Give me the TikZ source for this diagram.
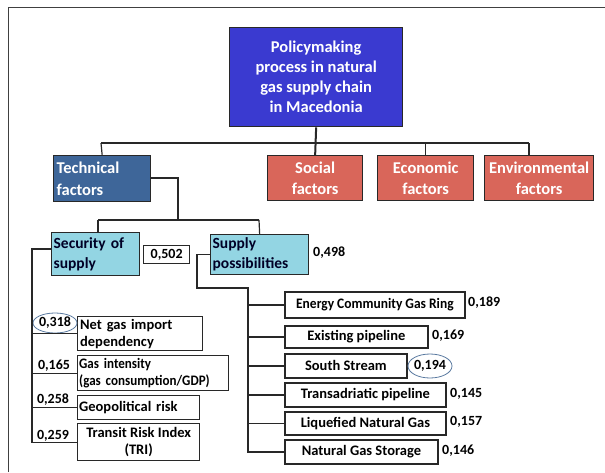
\documentclass[tikz,border=0pt]{standalone}
\usepackage{fontspec}
\setmainfont{Carlito}
\newfontfamily\condA[FakeStretch=0.93]{Carlito}
\newfontfamily\condB[FakeStretch=0.9]{Carlito}
\usetikzlibrary{shapes.geometric}
\definecolor{mainblue}{RGB}{58,58,208}
\definecolor{techblue}{RGB}{62,102,153}
\definecolor{salmon}{RGB}{217,102,90}
\definecolor{lightblue}{RGB}{147,213,227}
\definecolor{linegray}{RGB}{40,40,40}
\definecolor{ringblue}{RGB}{90,122,160}
\tikzset{
  base/.style={draw=linegray, line width=1.3pt, inner sep=0pt, anchor=north west, font=\bfseries},
  mainbox/.style={base, fill=mainblue, text=white, align=center, font=\fontsize{16.5}{20}\selectfont\bfseries},
  techbox/.style={base, fill=techblue, text=white, align=left, font=\fontsize{16.5}{22}\selectfont\bfseries},
  redbox/.style={base, fill=salmon, text=white, align=center, font=\fontsize{16.5}{20.5}\selectfont\bfseries},
  lbbox/.style={base, fill=lightblue, text=black!85!blue, align=left, font=\fontsize{15.5}{20}\selectfont\bfseries},
  wbox/.style={base, fill=white, text=black, font=\fontsize{14.5}{17}\selectfont\bfseries},
  rbox/.style={base, line width=1.8pt, fill=white, text=black, align=center, font=\fontsize{14.5}{17}\selectfont\bfseries},
  val/.style={inner sep=0pt, text=black, font=\fontsize{14}{15}\selectfont\bfseries},
  conn/.style={draw=linegray, line width=1.2pt},
  ring/.style={draw=ringblue, line width=0.8pt, ellipse, inner sep=0pt},
}
\begin{document}
\begin{tikzpicture}[x=1pt,y=-1pt]
\useasboundingbox (0,0) rectangle (605,472);
% frame
\draw[draw=black!75, line width=1pt] (8,472) -- (8,7) -- (605,7);

% level 0 and 1
\node[mainbox, minimum width=173pt, minimum height=99pt] (main) at (229,27)
  {Policymaking\\process in natural\\gas supply chain\\in Macedonia};
\node[techbox, minimum width=97pt, minimum height=46pt, text width=91pt] (tech) at (53,155)
  {Technical\\factors};
\node[redbox, minimum width=95pt, minimum height=45pt] (social) at (267,155) {Social\\factors};
\node[redbox, minimum width=96pt, minimum height=45pt] (econ) at (377,155) {Economic\\factors};
\node[redbox, minimum width=109pt, minimum height=45pt] (env) at (484,155) {Environmental\\factors};

\coordinate (busL) at (101,143);
\coordinate (busR) at (529,143);
\draw[conn] (busL) -- (busR);
\draw[conn, line width=2pt] (main.south) -- (social.north);
\draw[conn] (busL) -- (tech.north);
\draw[conn] (econ.north |- busL) -- (econ.north);
\draw[conn] (busR) -- (busR |- env.north);

% level 2
\node[lbbox, minimum width=88pt, minimum height=43pt, text width=84pt] (sec) at (51,232)
  {Security of\\supply};
\node[wbox, minimum width=46pt, minimum height=18pt, font=\fontsize{14}{15}\selectfont\bfseries] (v502) at (143,245) {0,502};
\node[lbbox, minimum width=98pt, minimum height=40pt, text width=94pt] (sup) at (210,234)
  {Supply\\possibilities};
\node[val, anchor=west] (v498) at (313,253) {0,498};

\coordinate (tk) at (178,178);
\coordinate (bus2L) at (98,220);
\coordinate (bus2R) at (259,220);
\draw[conn] (tech.east |- tk) -- (tk) -- (tk |- bus2L);
\draw[conn] (bus2L) -- (bus2R);
\draw[conn] (bus2L) -- (bus2L |- sec.north);
\draw[conn] (bus2R) -- (sup.north);

% security indicators
\node[wbox, minimum width=125pt, minimum height=34pt, text width=120pt, align=left] (net) at (77,316)
  {Net gas import\\dependency};
\node[wbox, minimum width=151pt, minimum height=35pt, text width=148pt, align=left,
      font=\fontsize{14.5}{17}\condB\bfseries] (gint) at (77,355)
  {Gas intensity\\(gas consumption/GDP)};
\node[wbox, minimum width=122pt, minimum height=24pt, text width=119pt, align=left] (geo) at (77,395)
  {Geopolitical risk};
\node[wbox, minimum width=122pt, minimum height=37pt, align=center] (tri) at (77,423)
  {Transit Risk Index\\(TRI)};

\node[val] (v318) at (55,323) {0,318};
\node[ring, minimum width=44pt, minimum height=20pt] (r318) at (v318) {};
\node[val] (v165) at (54,366) {0,165};
\node[val] (v258) at (53,400) {0,258};
\node[val] (v259) at (53,436) {0,259};

\coordinate (sL) at (32,249);
\draw[conn] (sec.west |- sL) -- (sL) -- (sL |- tri.west) -- (tri.west);
\draw[conn] (sL |- net.west) -- (net.west);
\draw[conn] (sL |- gint.west) -- (gint.west);
\draw[conn] (sL |- geo.west) -- (geo.west);

% supply options
\node[rbox, minimum width=180pt, minimum height=26pt, font=\fontsize{14.5}{17}\condA\bfseries] (ecgr) at (284,291) {Energy Community Gas Ring};
\node[rbox, minimum width=143pt, minimum height=22pt] (exist) at (284,325) {Existing pipeline};
\node[rbox, minimum width=122pt, minimum height=24pt] (south) at (284,353) {South Stream};
\node[rbox, minimum width=161pt, minimum height=24pt] (trans) at (284,382) {Transadriatic pipeline};
\node[rbox, minimum width=161pt, minimum height=23pt] (lng) at (284,411) {Liquefied Natural Gas};
\node[rbox, minimum width=153pt, minimum height=24pt] (ngs) at (284,439) {Natural Gas Storage};

\node[val, anchor=west] (v189) at (468,303) {0,189};
\node[val, anchor=west] (v169) at (432,336) {0,169};
\node[val] (v194) at (430,366) {0,194};
\node[ring, minimum width=44pt, minimum height=24pt] (r194) at (v194) {};
\node[val, anchor=west] (v145) at (450,394) {0,145};
\node[val, anchor=west] (v157) at (450,422) {0,157};
\node[val, anchor=west] (v146) at (442,451) {0,146};

\coordinate (pa) at (197,288);
\coordinate (pb) at (248,288);
\draw[conn] (sup.west) -- (pa |- sup.west) -- (pa) -- (pb) -- (pb |- ngs.west) -- (ngs.west);
\draw[conn] (pb |- ecgr.west) -- (ecgr.west);
\draw[conn] (pb |- exist.west) -- (exist.west);
\draw[conn] (pb |- south.west) -- (south.west);
\draw[conn] (pb |- trans.west) -- (trans.west);
\draw[conn] (pb |- lng.west) -- (lng.west);
\end{tikzpicture}
\end{document}
